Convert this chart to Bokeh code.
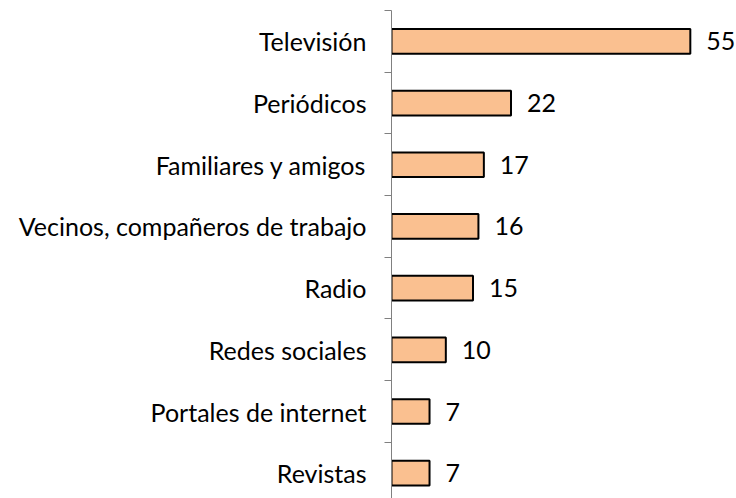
from bokeh.plotting import figure
from bokeh.models import ColumnDataSource, FixedTicker, Range1d
from bokeh.core.properties import value
from bokeh.embed import file_html
from bokeh.resources import INLINE

categories = ["Revistas", "Portales de internet", "Redes sociales", "Radio",
              "Vecinos, compañeros de trabajo", "Familiares y amigos",
              "Periódicos", "Televisión"]
values = [7, 7, 10, 15, 16, 17, 22, 55]

pos = list(range(len(categories)))
src = ColumnDataSource(dict(y=pos, v=values, lbl=[str(v) for v in values]))

FONT = "Lato"
FSIZE = "25px"

p = figure(width=736, height=498, output_backend="svg", toolbar_location=None,
           x_range=Range1d(0, 63.5), y_range=Range1d(-0.41, 7.5),
           min_border_left=391, min_border_top=10, min_border_bottom=0,
           min_border_right=0)
p.outline_line_color = None
p.grid.visible = False
p.xaxis.visible = False

p.hbar(y="y", left=0, right="v", height=0.4, source=src,
       fill_color="#FAC090", line_color="black", line_width=2)

p.text(x="v", y="y", text="lbl", source=src, x_offset=16,
       text_align="left", text_baseline="middle",
       text_font=value(FONT), text_font_size=FSIZE, text_color="black")

ax = p.yaxis[0]
ax.ticker = FixedTicker(ticks=pos, minor_ticks=[i + 0.5 for i in range(-1, len(categories))])
ax.major_label_overrides = {i: c for i, c in enumerate(categories)}
ax.major_tick_out = 0
ax.major_tick_in = 0
ax.minor_tick_out = 7
ax.minor_tick_in = 0
ax.minor_tick_line_color = "#808080"
ax.axis_line_color = "#808080"
ax.axis_line_width = 1
ax.major_label_standoff = 18
ax.major_label_text_font = FONT
ax.major_label_text_font_size = FSIZE
ax.major_label_text_color = "black"

open("out.html", "w").write(file_html(p, INLINE))
